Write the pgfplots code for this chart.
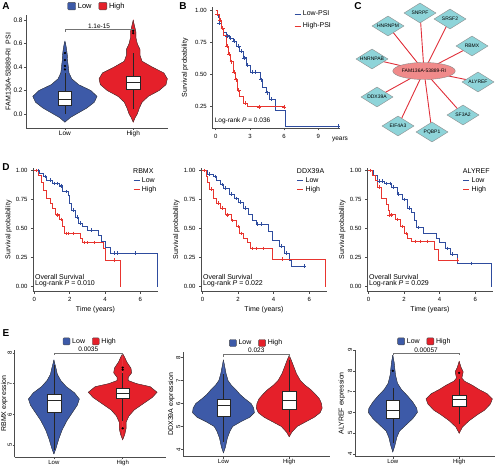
\documentclass[border=0pt]{standalone}
\usepackage{fontspec}
\setmainfont{Liberation Sans}
\usepackage{pgfplots}
\pgfplotsset{compat=1.18}
\usepackage{pgfplotstable}
\usetikzlibrary{shapes.geometric}

\definecolor{vblue}{HTML}{3D5AA8}
\definecolor{vred}{HTML}{E5202A}
\definecolor{kblue}{HTML}{2E4C9E}
\definecolor{kred}{HTML}{E8352F}
\definecolor{diac}{HTML}{8ED4D9}
\definecolor{ellc}{HTML}{F08A8A}
\definecolor{edgec}{HTML}{E0303A}

\newcommand\fs[1]{\fontsize{#1}{#1}\selectfont}

% ---------- violin profiles (y, half width) ----------
\pgfplotstableread{
y w
-0.07 0
-0.03 0.08
0.00 0.17
0.05 0.32
0.10 0.43
0.15 0.47
0.20 0.38
0.25 0.20
0.30 0.10
0.35 0.06
0.40 0.05
0.45 0.04
0.50 0.035
0.55 0.025
0.60 0.01
0.62 0
}\vALow
\pgfplotstableread{
y w
-0.07 0
-0.03 0.03
0.00 0.06
0.05 0.09
0.10 0.13
0.15 0.22
0.20 0.38
0.25 0.48
0.30 0.50
0.35 0.45
0.40 0.28
0.45 0.13
0.50 0.10
0.55 0.10
0.60 0.06
0.65 0.04
0.70 0.04
0.75 0.02
0.80 0
}\vAHigh
\pgfplotstableread{
y w
4.72 0
4.90 0.03
5.20 0.07
5.50 0.12
5.80 0.19
6.10 0.28
6.30 0.34
6.50 0.37
6.70 0.30
6.90 0.18
7.10 0.10
7.30 0.05
7.50 0.03
7.76 0
}\vEaLow
\pgfplotstableread{
y w
5.18 0
5.35 0.03
5.55 0.05
5.75 0.05
5.95 0.09
6.15 0.17
6.35 0.30
6.55 0.43
6.72 0.50
6.90 0.40
7.00 0.20
7.10 0.08
7.20 0.08
7.35 0.13
7.50 0.12
7.70 0.06
7.85 0.03
7.97 0
}\vEaHigh
\pgfplotstableread{
y w
3.85 0
4.10 0.03
4.50 0.06
4.80 0.10
5.00 0.14
5.20 0.26
5.40 0.40
5.60 0.47
5.80 0.46
6.00 0.42
6.20 0.33
6.40 0.25
6.60 0.19
6.80 0.12
7.00 0.07
7.30 0.04
7.60 0.02
7.90 0
}\vEbLow
\pgfplotstableread{
y w
4.55 0
4.75 0.04
5.00 0.12
5.20 0.25
5.40 0.38
5.60 0.47
5.80 0.50
6.00 0.49
6.20 0.46
6.40 0.40
6.60 0.33
6.80 0.24
7.00 0.17
7.30 0.11
7.60 0.07
7.90 0.03
8.10 0
}\vEbHigh
\pgfplotstableread{
y w
4.10 0
4.40 0.03
4.80 0.06
5.10 0.10
5.40 0.20
5.70 0.30
6.00 0.37
6.20 0.36
6.50 0.30
6.80 0.22
7.10 0.13
7.40 0.07
7.80 0.04
8.10 0.03
8.40 0.02
8.75 0
}\vEcLow
\pgfplotstableread{
y w
5.00 0
5.30 0.05
5.60 0.15
5.90 0.28
6.10 0.38
6.40 0.47
6.65 0.50
6.90 0.42
7.10 0.30
7.30 0.20
7.50 0.08
7.65 0.04
7.80 0.05
7.95 0.06
8.15 0.03
8.45 0
}\vEcHigh

% ---------- network ----------
\pgfplotstableread{
x y lab
420 -13 SNRPF
450 -19 SRSF2
388 -26 HNRNPM
472 -46 RBMX
372 -59 HNRNPAB
478 -82 ALYREF
377 -97 DDX39A
463 -115 SF3A2
398 -126 EIF4A3
432 -132 PQBP1
}\netnodes
\pgfplotstableread{
x y lab
424 -71 FAM136A-53889-RI
}\netcenter
\pgfplotstableread{
x y
424 -71
420 -13
424 -71
450 -19
424 -71
388 -26
424 -71
472 -46
424 -71
372 -59
424 -71
478 -82
424 -71
377 -97
424 -71
463 -115
424 -71
398 -126
424 -71
432 -132
424 -71
}\netedges

% violin: table, centre, colour
\newcommand{\violin}[3]{%
 \addplot[fill=#3, draw=#3, line width=0.2pt, forget plot] table[x expr=#2+\thisrow{w}, y=y]{#1} -- cycle;
 \addplot[fill=#3, draw=#3, line width=0.2pt, forget plot] table[x expr=#2-\thisrow{w}, y=y]{#1} -- cycle;
 \addplot[draw=black!80, line width=0.4pt, forget plot] table[x expr=#2+\thisrow{w}, y=y]{#1};
 \addplot[draw=black!80, line width=0.4pt, forget plot] table[x expr=#2-\thisrow{w}, y=y]{#1};
}
% box: left, centre, right, lower whisker, q1, median, q3, upper whisker
\newcommand{\boxp}[8]{%
 \addplot[black!85, line width=0.5pt, forget plot] coordinates {(#2,#4) (#2,#8)};
 \addplot[fill=white, draw=black!85, line width=0.5pt, forget plot] coordinates {(#1,#5) (#3,#5) (#3,#7) (#1,#7)} -- cycle;
 \addplot[black!85, line width=0.9pt, forget plot] coordinates {(#1,#6) (#3,#6)};
}

\pgfplotsset{
 base/.style={scale only axis, axis lines*=left, tick align=outside, clip=false,
   axis line style={black!70, line width=0.5pt}, every tick/.style={black!70, line width=0.5pt},
   major tick length=2pt, tick label style={font=\fs{6.5}},
   label style={font=\fs{7.5}}, /pgf/number format/assume math mode=true},
 vio/.style={base, xtick={1,2}, xticklabels={Low,High}, x tick label style={inner sep=1pt},
   y tick label style={inner sep=1.2pt},
   legend columns=2, legend style={at={(rel axis cs:0.5,1)}, anchor=south, yshift=3pt,
   draw=none, fill=none, font=\fs{7.5}, inner sep=0pt,
   /tikz/every even column/.append style={column sep=5pt}},
   legend image code/.code={\draw[#1, rounded corners=1pt] (0pt,-3.5pt) rectangle (8pt,4pt);}},
 km/.style={base, xmin=-0.08, xmax=7, ymin=-0.043, ymax=1.023,
   xtick={0,2,4,6}, ytick={0,0.25,0.5,0.75,1}, tick label style={font=\fs{6}},
   y tick label style={/pgf/number format/.cd, fixed, fixed zerofill, precision=2, /tikz/.cd},
   xlabel={Time (years)}, ylabel={Survival probability}, label style={font=\fs{7}},
   x label style={yshift=2pt},
   y label style={at={(axis description cs:-0.195,0.5)}, anchor=center},
   legend style={draw=none, fill=none, font=\fs{7}, inner sep=0pt, row sep=-1.5pt},
   legend cell align=left,
   legend image code/.code={\draw[#1, line width=0.7pt] (0pt,0pt) -- (6pt,0pt);}},
 ebox/.style={vio, tick label style={font=\fs{6}},
   y tick label style={rotate=90, anchor=south, inner sep=0.6pt},
   x tick label style={inner sep=0.5pt}, label style={font=\fs{7}}, legend style={font=\fs{7}},
   legend image code/.code={\draw[#1, rounded corners=1pt] (0pt,-3.3pt) rectangle (7pt,3.7pt);}},
}

\begin{document}
\begin{tikzpicture}[x=1pt,y=1pt]
\useasboundingbox (0,0) rectangle (500,466);
\node[font=\bfseries\fs{10}] at (6,460) {A};
\node[font=\bfseries\fs{10}] at (183,460) {B};
\node[font=\bfseries\fs{10}] at (358,460) {C};
\node[font=\bfseries\fs{10}] at (6,299) {D};
\node[font=\bfseries\fs{10}] at (6,133) {E};

% ================= A =================
\begin{axis}[vio, at={(26pt,338pt)}, anchor=south west, width=142pt, height=113pt,
  xmin=0.43, xmax=2.51, ymin=-0.12, ymax=0.845, ytick={0,0.2,0.4,0.6,0.8},
  y tick label style={/pgf/number format/.cd, fixed, fixed zerofill, precision=1, /tikz/.cd},
  ylabel={FAM136A-53889-RI\ \ PSI}, label style={font=\fs{7}},
  y label style={at={(axis description cs:-0.125,0.5)}, anchor=center}]
\addlegendimage{fill=vblue, draw=black!70}
\addlegendimage{fill=vred, draw=black!70}
\violin{\vALow}{1}{vblue}
\violin{\vAHigh}{2}{vred}
\boxp{0.9}{1}{1.1}{0.0}{0.07}{0.12}{0.19}{0.35}
\boxp{1.9}{2}{2.1}{0.04}{0.21}{0.265}{0.32}{0.52}
\addplot[only marks, mark=*, mark size=0.9pt, black, forget plot] coordinates {(1,0.38) (1,0.41) (1,0.46) (1,0.52) (2,0.69) (2,0.71)};
\addplot[black!55, line width=0.5pt, forget plot] coordinates {(1,0.70) (1,0.72) (2,0.72) (2,0.70)};
\node[font=\fs{6.5}, above, inner sep=1pt] at (axis cs:1.5,0.72) {1.1e-15};
\legend{Low,High}
\end{axis}

% ================= B =================
\begin{axis}[base, at={(212.3pt,337.7pt)}, anchor=south west, width=127.7pt, height=121.3pt,
  xmin=-0.3, xmax=10.9, ymin=0.083, ymax=1.023, xtick={0,3,6,9}, ytick={0.25,0.5,0.75,1},
  tick label style={font=\fs{6}}, label style={font=\fs{7}},
  y tick label style={/pgf/number format/.cd, fixed, fixed zerofill, precision=2, /tikz/.cd},
  ylabel={Survival probability},
  y label style={at={(axis description cs:-0.214,0.5)}, anchor=center},
  legend style={at={(rel axis cs:0.64,0.985)}, anchor=north west, draw=none, fill=none,
    font=\fs{7}, inner sep=0pt, row sep=1.5pt}, legend cell align=left,
  legend image code/.code={\draw[#1, line width=0.7pt] (0pt,0pt) -- (6pt,0pt);}]
\addplot[kblue, const plot, line width=0.6pt] coordinates {(0,1) (0.1,0.97) (0.2,0.94) (0.3,0.9) (0.5,0.86) (0.7,0.83) (0.9,0.8) (1.2,0.78) (1.5,0.76) (1.8,0.72) (2.1,0.68) (2.4,0.63) (2.7,0.57) (3.0,0.52) (3.9,0.46) (4.1,0.4) (4.4,0.36) (4.7,0.31) (5.2,0.22) (6.1,0.1) (10.75,0.1)};
\addplot[kred, const plot, line width=0.6pt] coordinates {(0,1) (0.1,0.97) (0.3,0.92) (0.5,0.86) (0.7,0.8) (0.9,0.72) (1.1,0.66) (1.3,0.6) (1.5,0.52) (1.7,0.46) (1.9,0.38) (2.1,0.33) (2.4,0.28) (2.8,0.25) (6.0,0.25)};
\addplot[kblue, only marks, mark=+, mark size=2pt, forget plot] coordinates {(0.3,0.9) (0.6,0.86) (1.0,0.8) (1.3,0.78) (1.6,0.76) (2.0,0.72) (2.2,0.68) (2.5,0.63) (2.8,0.57) (3.2,0.52) (3.5,0.52) (4.0,0.46) (4.5,0.36) (4.9,0.31) (10.75,0.1)};
\addplot[kred, only marks, mark=+, mark size=2pt, forget plot] coordinates {(0.1,0.97) (0.4,0.92) (0.6,0.86) (1.0,0.72) (1.2,0.66) (1.4,0.6) (1.6,0.52) (1.8,0.46) (2.0,0.38) (2.6,0.28) (3.8,0.25) (6.0,0.25)};
\node[anchor=west, font=\fs{6.5}, inner sep=0pt] at (axis cs:-0.1,0.141) {Log-rank \textit{P} = 0.036};
\node[font=\fs{6.5}, yshift=-11.5pt] at (axis cs:10.9,0.083) {years};
\legend{Low-PSI,High-PSI}
\end{axis}

% ================= C =================
\begin{axis}[at={(340pt,321pt)}, anchor=south west, scale only axis, width=160pt, height=145pt,
  xmin=340, xmax=500, ymin=-145, ymax=0, hide axis, clip=false]
\addplot[edgec, line width=0.9pt, forget plot] table {\netedges};
\addplot[only marks, mark=none, point meta=explicit symbolic, nodes near coords,
  every node near coord/.append style={shape=diamond, draw=black!45, fill=diac, aspect=1.6,
  minimum width=32pt, minimum height=20pt, inner sep=0pt, font=\fs{5}, anchor=center}]
  table[meta=lab] {\netnodes};
\addplot[only marks, mark=none, point meta=explicit symbolic, nodes near coords,
  every node near coord/.append style={shape=ellipse, draw=black!45, fill=ellc,
  minimum width=52pt, minimum height=17pt, inner sep=0pt, font=\fs{5}, anchor=center}]
  table[meta=lab] {\netcenter};
\end{axis}

% ================= D1 =================
\begin{axis}[km, at={(33pt,174.3pt)}, anchor=south west, width=125pt, height=123.7pt,
  legend style={at={(rel axis cs:0.8,0.94)}, anchor=north west}]
\addplot[kblue, const plot, line width=0.6pt] coordinates {(0,1) (0.3,0.98) (0.5,0.95) (0.7,0.92) (1.0,0.89) (1.4,0.87) (1.6,0.82) (1.9,0.79) (2.0,0.72) (2.1,0.66) (2.3,0.6) (2.5,0.55) (2.7,0.52) (3.0,0.49) (3.6,0.44) (3.8,0.39) (4.0,0.34) (4.3,0.29) (6.95,0.29) (6.95,0)};
\addplot[kred, const plot, line width=0.6pt] coordinates {(0,1) (0.2,0.96) (0.4,0.9) (0.5,0.83) (0.7,0.76) (0.9,0.72) (1.0,0.68) (1.2,0.62) (1.4,0.58) (1.6,0.52) (1.7,0.46) (2.6,0.42) (2.7,0.38) (3.9,0.33) (4.0,0.23) (4.88,0.23) (4.88,0)};
\addplot[kblue, only marks, mark=+, mark size=1.8pt, forget plot] coordinates {(0.2,1) (0.6,0.95) (0.9,0.92) (1.1,0.89) (1.3,0.89) (1.5,0.87) (1.8,0.82) (2.2,0.66) (2.4,0.6) (2.6,0.55) (3.2,0.49) (4.5,0.29) (4.7,0.29) (5.7,0.29)};
\addplot[kred, only marks, mark=+, mark size=1.8pt, forget plot] coordinates {(0.1,1) (1.3,0.62) (1.5,0.58) (1.8,0.46) (1.9,0.46) (2.2,0.46) (2.8,0.38) (3.0,0.38) (3.4,0.38) (4.5,0.23)};
\node[anchor=north west, font=\fs{7}, inner sep=0pt] at (rel axis cs:0.8,1) {RBMX};
\node[anchor=south west, align=left, font=\fs{7}, inner sep=0pt] at (axis cs:0.03,0.0) {Overall Survival\\[-1pt]Log-rank \textit{P} = 0.010};
\legend{Low,High}
\end{axis}

% ================= D2 =================
\begin{axis}[km, at={(201pt,174.3pt)}, anchor=south west, width=126pt, height=123.7pt,
  legend style={at={(rel axis cs:0.76,0.94)}, anchor=north west}]
\addplot[kblue, const plot, line width=0.6pt] coordinates {(0,1) (0.3,0.97) (0.6,0.95) (0.8,0.92) (1.0,0.88) (1.2,0.85) (1.5,0.8) (1.8,0.76) (2.0,0.73) (2.3,0.68) (2.6,0.62) (2.8,0.57) (3.0,0.54) (3.7,0.48) (3.9,0.4) (4.3,0.35) (4.6,0.29) (4.9,0.23) (5.0,0.18) (5.7,0.18)};
\addplot[kred, const plot, line width=0.6pt] coordinates {(0,1) (0.2,0.95) (0.3,0.9) (0.4,0.84) (0.6,0.76) (0.8,0.72) (1.0,0.68) (1.3,0.62) (1.6,0.57) (1.9,0.52) (2.1,0.46) (2.3,0.42) (2.5,0.38) (2.7,0.33) (3.9,0.24) (6.9,0.24) (6.9,0)};
\addplot[kblue, only marks, mark=+, mark size=1.8pt, forget plot] coordinates {(0.4,0.97) (0.7,0.95) (1.1,0.88) (1.3,0.85) (1.6,0.8) (1.9,0.76) (2.1,0.73) (2.4,0.68) (3.1,0.54) (3.3,0.54) (4.4,0.35) (4.7,0.29) (5.7,0.18)};
\addplot[kred, only marks, mark=+, mark size=1.8pt, forget plot] coordinates {(0.1,1) (0.5,0.84) (0.9,0.72) (1.1,0.68) (1.4,0.62) (1.7,0.57) (2.0,0.52) (2.2,0.46) (2.8,0.33) (3.0,0.33) (3.4,0.33) (4.5,0.24)};
\node[anchor=north west, font=\fs{7}, inner sep=0pt] at (rel axis cs:0.76,1) {DDX39A};
\node[anchor=south west, align=left, font=\fs{7}, inner sep=0pt] at (axis cs:0.03,0.0) {Overall Survival\\[-1pt]Log-rank \textit{P} = 0.022};
\legend{Low,High}
\end{axis}

% ================= D3 =================
\begin{axis}[km, at={(367pt,174.3pt)}, anchor=south west, width=126pt, height=123.7pt,
  legend style={at={(rel axis cs:0.76,0.94)}, anchor=north west}]
\addplot[kblue, const plot, line width=0.6pt] coordinates {(0,1) (0.3,0.96) (0.5,0.91) (0.9,0.89) (1.3,0.86) (1.6,0.8) (1.9,0.75) (2.2,0.68) (2.4,0.64) (2.6,0.57) (2.7,0.51) (3.1,0.46) (3.8,0.42) (4.0,0.38) (4.3,0.33) (4.6,0.28) (5.0,0.2) (6.9,0.2) (6.9,0)};
\addplot[kred, const plot, line width=0.6pt] coordinates {(0,1) (0.2,0.96) (0.4,0.92) (0.5,0.86) (0.7,0.76) (1.0,0.71) (1.1,0.66) (1.2,0.62) (1.5,0.58) (1.8,0.52) (2.0,0.46) (2.2,0.42) (2.4,0.39) (3.7,0.32) (3.9,0.23) (5.0,0.23)};
\addplot[kblue, only marks, mark=+, mark size=1.8pt, forget plot] coordinates {(0.6,0.91) (0.8,0.91) (1.0,0.89) (1.2,0.89) (1.4,0.86) (1.7,0.8) (2.0,0.75) (2.3,0.68) (2.8,0.51) (4.4,0.33) (4.7,0.28) (5.8,0.2)};
\addplot[kred, only marks, mark=+, mark size=1.8pt, forget plot] coordinates {(0.1,1) (0.6,0.86) (1.15,0.62) (1.3,0.62) (1.6,0.58) (1.9,0.52) (2.1,0.46) (2.6,0.39) (2.9,0.39) (3.3,0.39) (5.0,0.23)};
\node[anchor=north west, font=\fs{7}, inner sep=0pt] at (rel axis cs:0.76,1) {ALYREF};
\node[anchor=south west, align=left, font=\fs{7}, inner sep=0pt] at (axis cs:0.03,0.0) {Overall Survival\\[-1pt]Log-rank \textit{P} = 0.029};
\legend{Low,High}
\end{axis}

% ================= E1 =================
\begin{axis}[ebox, at={(14.7pt,8.7pt)}, anchor=south west, width=151.3pt, height=107.3pt,
  xmin=0.43, xmax=2.63, ymin=4.61, ymax=8.09, ytick={5,6,7,8}, ylabel={RBMX expression},
  y label style={at={(axis description cs:-0.068,0.5)}, anchor=center}]
\addlegendimage{fill=vblue, draw=black!70}
\addlegendimage{fill=vred, draw=black!70}
\violin{\vEaLow}{1}{vblue}
\violin{\vEaHigh}{2}{vred}
\boxp{0.9}{1}{1.1}{4.85}{6.08}{6.46}{6.64}{7.6}
\boxp{1.9}{2}{2.1}{5.8}{6.51}{6.68}{6.85}{7.35}
\addplot[only marks, mark=*, mark size=0.9pt, black, forget plot] coordinates {(2,5.55) (2,7.45) (2,7.52)};
\addplot[black!55, line width=0.5pt, forget plot] coordinates {(1,7.93) (1,8.0) (2,8.0) (2,7.93)};
\node[font=\fs{6.5}, above, inner sep=1pt] at (axis cs:1.5,8.0) {0.0035};
\legend{Low,High}
\end{axis}

% ================= E2 =================
\begin{axis}[ebox, at={(183.3pt,9.3pt)}, anchor=south west, width=146.7pt, height=105pt,
  xmin=0.39, xmax=2.62, ymin=3.68, ymax=8.26, ytick={4,5,6,7,8}, ylabel={DDX39A expression},
  y label style={at={(axis description cs:-0.081,0.5)}, anchor=center}]
\addlegendimage{fill=vblue, draw=black!70}
\addlegendimage{fill=vred, draw=black!70}
\violin{\vEbLow}{1}{vblue}
\violin{\vEbHigh}{2}{vred}
\boxp{0.9}{1}{1.1}{4.3}{5.45}{5.9}{6.18}{7.3}
\boxp{1.9}{2}{2.1}{4.75}{5.75}{6.12}{6.52}{7.9}
\addplot[black!55, line width=0.5pt, forget plot] coordinates {(1,8.05) (1,8.15) (2,8.15) (2,8.05)};
\node[font=\fs{6.5}, above, inner sep=1pt] at (axis cs:1.5,8.15) {0.023};
\legend{Low,High}
\end{axis}

% ================= E3 =================
\begin{axis}[ebox, at={(355pt,9.3pt)}, anchor=south west, width=140pt, height=106.7pt,
  xmin=0.43, xmax=2.54, ymin=3.87, ymax=9.0, ytick={4,5,6,7,8,9}, ylabel={ALYREF expression},
  y label style={at={(axis description cs:-0.095,0.5)}, anchor=center}]
\addlegendimage{fill=vblue, draw=black!70}
\addlegendimage{fill=vred, draw=black!70}
\violin{\vEcLow}{1}{vblue}
\violin{\vEcHigh}{2}{vred}
\boxp{0.9}{1}{1.1}{4.55}{5.72}{6.07}{6.57}{7.15}
\boxp{1.9}{2}{2.1}{5.45}{6.31}{6.6}{6.84}{7.6}
\addplot[only marks, mark=*, mark size=0.9pt, black, forget plot] coordinates {(1,8.0) (2,7.9)};
\addplot[black!55, line width=0.5pt, forget plot] coordinates {(1,8.75) (1,8.84) (2,8.84) (2,8.75)};
\node[font=\fs{6.5}, above, inner sep=1pt] at (axis cs:1.5,8.84) {0.00057};
\legend{Low,High}
\end{axis}
\end{tikzpicture}
\end{document}
